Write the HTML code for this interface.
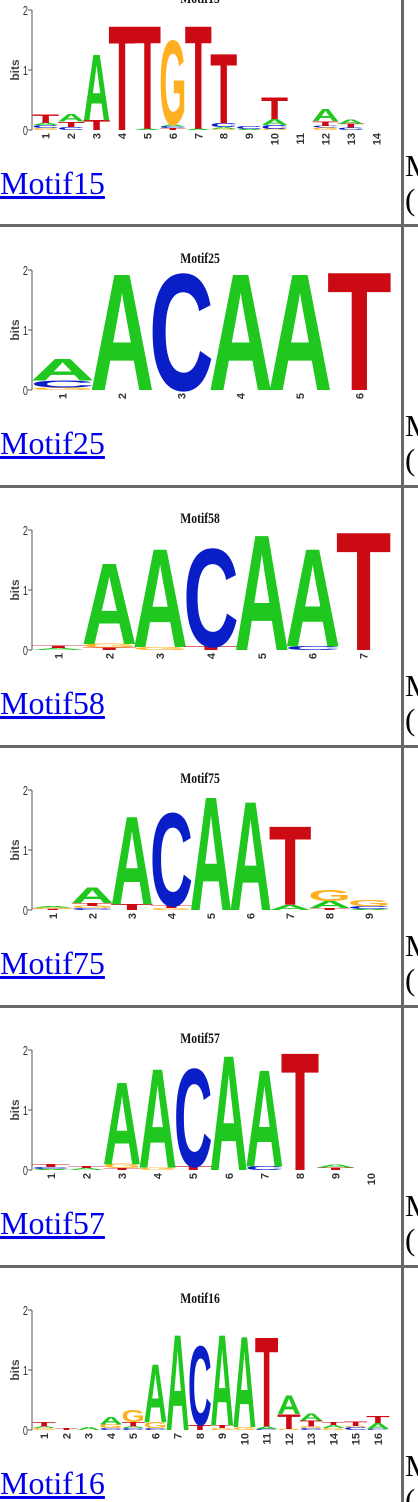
<!DOCTYPE html>
<html><head><meta charset="utf-8">
<style>
html,body{margin:0;padding:0;background:#fff;width:418px;height:1502px;overflow:hidden;position:relative}
.lnk{position:absolute;left:0;font-family:"Liberation Serif",serif;font-size:32px;color:#0000ee;text-decoration:underline;line-height:1;white-space:nowrap}
.rt{position:absolute;left:405px;font-family:"Liberation Serif",serif;font-size:31px;color:#000;line-height:1;white-space:nowrap}
.hb{position:absolute;left:0;width:418px;height:3px;background:#686868}
.vb{position:absolute;top:0;left:401px;width:3px;height:1502px;background:#686868}
</style></head>
<body>
<svg id="logos" width="418" height="1502" style="position:absolute;left:0;top:0" xmlns="http://www.w3.org/2000/svg"></svg>
<div class="vb"></div>
<div class="hb" style="top:224px"></div>
<div class="hb" style="top:485px"></div>
<div class="hb" style="top:745px"></div>
<div class="hb" style="top:1005px"></div>
<div class="hb" style="top:1265px"></div>
<div id="texts"></div>
<script>
const motifNames = ['Motif15','Motif25','Motif58','Motif75','Motif57','Motif16'];
const motif15 = [[['G',0.03],['C',0.05],['A',0.04],['T',0.14]],[['C',0.05],['T',0.09],['A',0.13]],[['T',0.17],['A',1.1]],[['T',1.75]],[['A',0.02],['T',1.73]],[['T',0.03],['C',0.03],['A',0.03],['G',1.41]],[['A',0.02],['T',1.73]],[['G',0.02],['A',0.03],['C',0.06],['T',1.17]],[['A',0.02],['C',0.05]],[['G',0.02],['C',0.06],['A',0.1],['T',0.37]],[],[['G',0.04],['C',0.03],['T',0.08],['A',0.2]],[['C',0.04],['T',0.06],['A',0.08]],[]];
const motif25 = [[['G',0.04],['C',0.12],['A',0.37]],[['A',1.95]],[['C',1.95]],[['A',1.95]],[['A',1.95]],[['T',1.98]]];
const motif58 = [[['A',0.03],['T',0.04]],[['T',0.04],['G',0.06],['A',1.35]],[['G',0.05],['A',1.65]],[['T',0.06],['C',1.64]],[['A',1.93]],[['C',0.06],['A',1.64]],[['T',1.98]]];
const motif75 = [[['T',0.02],['G',0.02],['A',0.02]],[['C',0.03],['G',0.04],['T',0.05],['A',0.26]],[['T',0.1],['A',1.47]],[['G',0.03],['T',0.04],['C',1.56]],[['A',1.9]],[['A',1.82]],[['A',0.08],['T',1.32]],[['T',0.03],['A',0.12],['G',0.18]],[['A',0.02],['C',0.05],['G',0.1]]];
const motif57 = [[['A',0.02],['C',0.03],['T',0.05]],[['A',0.03],['T',0.03]],[['T',0.03],['G',0.07],['A',1.38]],[['G',0.04],['A',1.66]],[['T',0.06],['C',1.64]],[['A',1.92]],[['C',0.06],['A',1.62]],[['T',1.97]],[['T',0.04],['A',0.05]],[]];
const motif16 = [[['G',0.03],['A',0.03],['T',0.07]],[['T',0.03]],[['A',0.05]],[['C',0.03],['G',0.06],['A',0.13]],[['C',0.03],['A',0.03],['T',0.07],['G',0.2]],[['C',0.03],['G',0.1],['A',0.97]],[['A',1.6]],[['T',0.08],['C',1.32]],[['G',0.03],['T',0.05],['A',1.52]],[['G',0.05],['A',1.52]],[['C',0.02],['A',0.04],['T',1.5]],[['G',0.02],['T',0.25],['A',0.31]],[['C',0.03],['G',0.03],['T',0.1],['A',0.12]],[['G',0.03],['A',0.05],['T',0.05]],[['C',0.05],['G',0.02],['T',0.07]],[['C',0.02],['A',0.1],['T',0.12]]];
const motifData = [motif15, motif25, motif58, motif75, motif57, motif16];
const yTicks = [0,1,2];

const NS='http://www.w3.org/2000/svg';
const svg=document.getElementById('logos');
const colors={A:'#1fc71f',C:'#0a1ec8',G:'#ffb021',T:'#cc0a14'};
const X0=33, X1=389, PXB=60;
function mk(tag,attrs,parent){const e=document.createElementNS(NS,tag);for(const k in attrs)e.setAttribute(k,attrs[k]);(parent||svg).appendChild(e);return e;}

motifData.forEach((data,r)=>{
  const zero=130+260*r;
  const yScale=v=>zero-v*PXB;
  const n=data.length, cw=(X1-X0)/n;
  const xScale=i=>X0+i*cw;
  const g=mk('g',{});
  
  
  const t=mk('text',{x:200,y:zero-127,'text-anchor':'middle','font-family':'Liberation Serif, serif','font-size':15,'font-weight':'bold',fill:'#111',transform:'translate(200,0) scale(0.78,1) translate(-200,0)'},g);
  t.textContent=motifNames[r];
  
  
  const ax=mk('line',{x1:32,x2:32,y1:yScale(2),y2:yScale(0),stroke:'#555','stroke-width':1},g);
  
  
  yTicks.forEach(v=>{
    mk('line',{x1:28,x2:32,y1:yScale(v),y2:yScale(v),stroke:'#555','stroke-width':1},g);
    const tl=mk('text',{x:28,y:yScale(v)+5,'text-anchor':'end','font-family':'Liberation Sans, sans-serif','font-size':13,fill:'#333',transform:`translate(28,0) scale(0.7,1) translate(-28,0)`},g);
    tl.textContent=v;
    
    
  });
  const bl=mk('text',{x:0,y:0,'text-anchor':'middle','font-family':'Liberation Sans, sans-serif','font-size':12,'font-weight':'bold',fill:'#444',transform:`translate(19,${yScale(1)}) rotate(-90)`},g);
  bl.textContent='bits';
  
  
  data.forEach((stack,i)=>{
    const cx=xScale(i)+cw/2;
    const xl=mk('text',{x:0,y:0,'text-anchor':'end','font-family':'Liberation Sans, sans-serif','font-size':11,'font-weight':'bold',fill:'#333',transform:`translate(${cx+4},${zero+3}) rotate(-90)`},g);
    xl.textContent=i+1;
    
    
    let acc=0;
    stack.forEach(([L,h])=>{
      const yb=yScale(acc), yt=yScale(acc+h), ph=yb-yt; acc+=h;
      if(ph<0.3)return;
      const w=cw-1, x=xScale(i)+0.5;
      const sx=w/90, sy=ph/70;
      const tx=mk('text',{x:0,y:0,'font-family':'Liberation Sans, sans-serif','font-weight':'bold','font-size':100,fill:colors[L],textLength:100,lengthAdjust:'spacingAndGlyphs',transform:`translate(${x-5*sx},${yb}) scale(${sx},${sy})`},g);
      tx.textContent=L;
      
      
    });
  });
});

const texts=document.getElementById('texts');
motifNames.forEach((nm,r)=>{
  const a=document.createElement('a');
  a.className='lnk';
  a.href='#'+nm;
  a.style.top=(196+260*r-29)+'px';
  a.textContent=nm;
  
  
  texts.appendChild(a);
  const m=document.createElement('div');
  m.className='rt';
  m.style.top=(177+260*r-27)+'px';
  m.textContent='M';
  
  
  texts.appendChild(m);
  const p=document.createElement('div');
  p.className='rt';
  p.style.top=(211+260*r-27)+'px';
  p.textContent='(';
  
  
  texts.appendChild(p);
});
</script>
</body></html>
